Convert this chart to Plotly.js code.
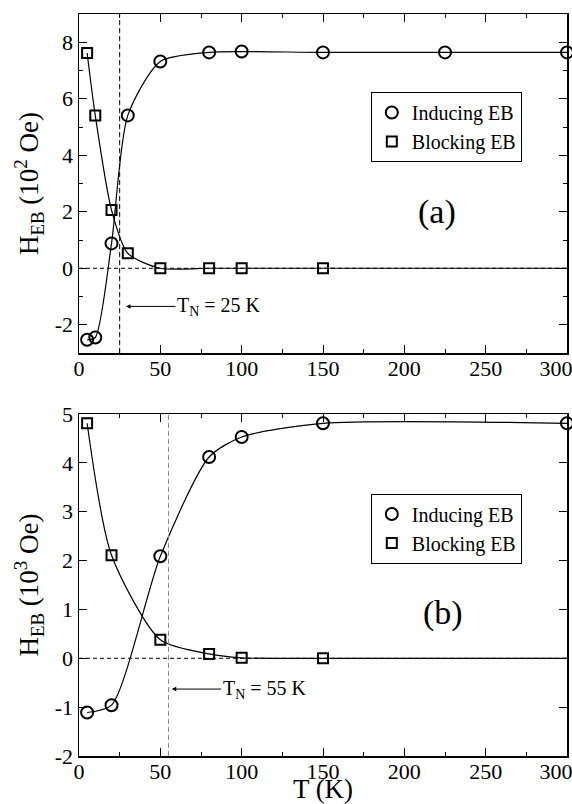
<!DOCTYPE html>
<html>
<head>
<meta charset="utf-8">
<script src="https://cdn.plot.ly/plotly-3.0.1.min.js"></script>
<style>html,body{margin:0;padding:0;background:#fff;}#chart{width:572px;height:804px;}</style>
</head>
<body>
<div id="chart"></div>
<script>
// Panel (a)
const aInducingT = [5, 10, 20, 30, 50, 80, 100, 150, 225, 300];
const aInducingH = [-2.53, -2.45, 0.88, 5.41, 7.32, 7.64, 7.67, 7.64, 7.64, 7.64];
const aBlockingT = [5, 10, 20, 30, 50, 80, 100, 150];
const aBlockingH = [7.62, 5.41, 2.06, 0.53, 0, 0, 0, 0];
const aTN = 25;
const aTNLabel = 'T<sub>N</sub> = 25 K';
const aYTickVals = [-2, 0, 2, 4, 6, 8];
const aYTickText = ['-2', '0', '2', '4', '6', '8'];

// Panel (b)
const bInducingT = [5, 20, 50, 80, 100, 150, 300];
const bInducingH = [-1.11, -0.96, 2.09, 4.12, 4.53, 4.81, 4.81];
const bBlockingT = [5, 20, 50, 80, 100, 150];
const bBlockingH = [4.81, 2.11, 0.38, 0.09, 0.01, 0];
const bTN = 55;
const bTNLabel = 'T<sub>N</sub> = 55 K';
const bYTickVals = [-2, -1, 0, 1, 2, 3, 4, 5];
const bYTickText = ['-2', '-1', '0', '1', '2', '3', '4', '5'];

const xTickVals = [0, 50, 100, 150, 200, 250, 300];
const xTickText = ['0', '50', '100', '150', '200', '250', '300\u00a0\u00a0\u00a0\u00a0'];
const seriesNames = ['Inducing EB', 'Blocking EB'];

const FONT = 'Liberation Serif, DejaVu Serif, serif';
const xMax = 300;

function curve(x, y, xa, ya) {
  return {x: x, y: y, xaxis: xa, yaxis: ya, mode: 'lines', type: 'scatter',
    line: {color: '#000', width: 1.2, shape: 'spline', smoothing: 0.7},
    showlegend: false, hoverinfo: 'skip'};
}
function marks(x, y, xa, ya, sym, name, leg) {
  return {x: x, y: y, xaxis: xa, yaxis: ya, mode: 'markers', type: 'scatter', name: name,
    legend: leg, cliponaxis: false,
    marker: {symbol: sym, size: sym === 'circle-open' ? 12 : 10, color: '#000', line: {color: '#000', width: 2}}};
}

const traces = [
  curve(aInducingT, aInducingH, 'x', 'y'),
  curve(aBlockingT, aBlockingH, 'x', 'y'),
  marks(aInducingT, aInducingH, 'x', 'y', 'circle-open', seriesNames[0], 'legend'),
  marks(aBlockingT, aBlockingH, 'x', 'y', 'square-open', seriesNames[1], 'legend'),
  curve(bInducingT, bInducingH, 'x2', 'y2'),
  curve(bBlockingT, bBlockingH, 'x2', 'y2'),
  marks(bInducingT, bInducingH, 'x2', 'y2', 'circle-open', seriesNames[0], 'legend2'),
  marks(bBlockingT, bBlockingH, 'x2', 'y2', 'square-open', seriesNames[1], 'legend2')
];

function xaxis(anchor, showTitle) {
  const ax = {anchor: anchor, range: [0, xMax], tickvals: xTickVals, ticktext: xTickText,
    ticks: 'inside', ticklen: 8, tickwidth: 1, tickcolor: '#000',
    showline: true, linecolor: '#000', linewidth: 1.5, mirror: 'ticks',
    showgrid: false, zeroline: false, ticklabeloverflow: 'allow', ticklabelstandoff: -5,
    tickfont: {family: FONT, size: 22, color: '#000'},
    minor: {dtick: 25, tick0: 0, ticks: 'inside', ticklen: 4, tickcolor: '#000', showgrid: false}};
  if (showTitle) ax.title = {text: 'T (K)', font: {family: FONT, size: 27, color: '#000'}, standoff: 7};
  return ax;
}
function yaxis(anchor, domain, range, tv, tt, minorDtick, title) {
  const ax = {anchor: anchor, domain: domain, range: range, tickvals: tv, ticktext: tt,
    ticks: 'inside', ticklen: 8, tickwidth: 1, tickcolor: '#000',
    showline: true, linecolor: '#000', linewidth: 1.5, mirror: 'ticks',
    showgrid: false, zeroline: false,
    tickfont: {family: FONT, size: 22, color: '#000'},
    title: {text: title, font: {family: FONT, size: 27, color: '#000'}, standoff: 8}};
  if (minorDtick) ax.minor = {dtick: minorDtick, ticks: 'inside', ticklen: 4, tickcolor: '#000', showgrid: false};
  return ax;
}

const legendStyle = (y) => ({x: 0.598, y: y, xanchor: 'left', yanchor: 'middle', bgcolor: '#fff',
  bordercolor: '#000', borderwidth: 1, font: {family: FONT, size: 20, color: '#000'},
  tracegroupgap: 0, itemwidth: 30});

function tnAnno(xr, yr, x, y, text) {
  return {xref: xr, yref: yr, x: x, y: y, ax: 93, ay: 0, text: text, showarrow: true,
    arrowhead: 2, arrowsize: 0.9, arrowwidth: 1, arrowcolor: '#000',
    font: {family: FONT, size: 20, color: '#000'}};
}

const layout = {
  width: 572, height: 804,
  margin: {l: 79, r: 5, t: 14, b: 48},
  paper_bgcolor: '#fff', plot_bgcolor: '#fff',
  font: {family: FONT},
  xaxis: xaxis('y', false),
  yaxis: yaxis('x', [0.5431, 1], [-3, 9], aYTickVals, aYTickText, 1, 'H<sub>EB</sub> (10<sup>2</sup> Oe)'),
  xaxis2: xaxis('y2', true),
  yaxis2: yaxis('x2', [0, 0.4609], [-2, 5], bYTickVals, bYTickText, null, 'H<sub>EB</sub> (10<sup>3</sup> Oe)'),
  legend: legendStyle(0.8477),
  legend2: legendStyle(0.3066),
  shapes: [
    {type: 'line', xref: 'x', yref: 'y domain', x0: aTN, x1: aTN, y0: 0, y1: 1, line: {color: '#000', width: 1, dash: '5px,3px'}},
    {type: 'line', xref: 'x domain', yref: 'y', x0: 0, x1: 1, y0: 0, y1: 0, line: {color: '#000', width: 1, dash: '4px,3px'}},
    {type: 'line', xref: 'x', yref: 'y', x0: aBlockingT[aBlockingT.length - 1], x1: xMax, y0: 0, y1: 0, line: {color: '#000', width: 1.2}},
    {type: 'line', xref: 'x2', yref: 'y2 domain', x0: bTN, x1: bTN, y0: 0, y1: 1, line: {color: '#888', width: 1, dash: '5px,3px'}},
    {type: 'line', xref: 'x2 domain', yref: 'y2', x0: 0, x1: 1, y0: 0, y1: 0, line: {color: '#000', width: 1, dash: '4px,3px'}},
    {type: 'line', xref: 'x2', yref: 'y2', x0: bBlockingT[bBlockingT.length - 1], x1: xMax, y0: 0, y1: 0, line: {color: '#000', width: 1.2}}
  ],
  annotations: [
    tnAnno('x', 'y', 28.9, -1.35, aTNLabel),
    tnAnno('x2', 'y2', 57, -0.63, bTNLabel),
    {xref: 'x', yref: 'y', x: 220, y: 2.0, text: '(a)', showarrow: false, font: {family: FONT, size: 34, color: '#000'}},
    {xref: 'x2', yref: 'y2', x: 224, y: 0.93, text: '(b)', showarrow: false, font: {family: FONT, size: 34, color: '#000'}}
  ]
};

Plotly.newPlot('chart', traces, layout, {displayModeBar: false, staticPlot: true});
</script>
</body>
</html>
